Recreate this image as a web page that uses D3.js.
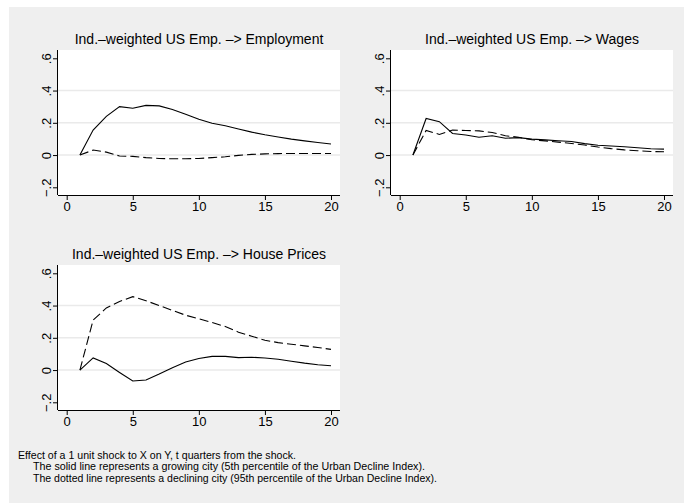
<!DOCTYPE html>
<html>
<head>
<meta charset="utf-8">
<script src="https://cdn.jsdelivr.net/npm/d3@7"></script>
<style>
  html, body { margin: 0; padding: 0; background: #ffffff; }
  svg { display: block; }
  text { font-family: "Liberation Sans", Arial, Helvetica, sans-serif; fill: #000; }
</style>
</head>
<body>
<svg id="chart" width="684" height="503"></svg>
<script>
// Quarters after the shock
const quarters = d3.range(1, 21);

// Impulse responses: solid = growing city, dashed = declining city
const empSolid   = [0, 0.155, 0.24, 0.30, 0.29, 0.308, 0.305, 0.283, 0.253, 0.222, 0.197, 0.182, 0.162, 0.142, 0.126, 0.112, 0.099, 0.088, 0.078, 0.069];
const empDashed  = [0, 0.031, 0.018, -0.006, -0.008, -0.016, -0.021, -0.023, -0.023, -0.021, -0.016, -0.011, -0.002, 0.004, 0.007, 0.009, 0.010, 0.010, 0.010, 0.010];
const wageSolid  = [0, 0.227, 0.207, 0.134, 0.124, 0.110, 0.120, 0.104, 0.108, 0.099, 0.094, 0.089, 0.084, 0.071, 0.061, 0.056, 0.051, 0.045, 0.039, 0.037];
const wageDashed = [0, 0.153, 0.128, 0.155, 0.152, 0.150, 0.140, 0.120, 0.110, 0.095, 0.088, 0.080, 0.072, 0.062, 0.050, 0.040, 0.032, 0.027, 0.022, 0.020];
const houseSolid  = [0, 0.075, 0.040, -0.015, -0.068, -0.062, -0.025, 0.015, 0.050, 0.072, 0.085, 0.085, 0.077, 0.079, 0.075, 0.067, 0.055, 0.043, 0.033, 0.027];
const houseDashed = [0, 0.310, 0.385, 0.425, 0.455, 0.430, 0.400, 0.370, 0.340, 0.318, 0.295, 0.270, 0.235, 0.210, 0.185, 0.170, 0.160, 0.150, 0.140, 0.128];

const panelTitles = [
  "Ind.\u2013weighted US Emp. \u2013> Employment",
  "Ind.\u2013weighted US Emp. \u2013> Wages",
  "Ind.\u2013weighted US Emp. \u2013> House Prices"
];

const xTicks = [0, 5, 10, 15, 20];
const yTicks = [-0.2, 0, 0.2, 0.4, 0.6];
const yTickLabels = ["\u2212.2", "0", ".2", ".4", ".6"];
const gridTicks = [0, 0.2, 0.4];

const noteLines = [
  "Effect of a 1 unit shock to X on Y, t quarters from the shock.",
  "The solid line represents a growing city (5th percentile of the Urban Decline Index).",
  "The dotted line represents a declining city (95th percentile of the Urban Decline Index)."
];

const svg = d3.select("#chart");

// outer graph region
svg.append("rect")
  .attr("x", 9).attr("y", 7)
  .attr("width", 684 - 9).attr("height", 503 - 7)
  .attr("fill", "#efefef");

const W = 282, H = 145;
const panels = [
  { left: 58,  top: 50,  title: panelTitles[0], solid: empSolid,   dashed: empDashed },
  { left: 391, top: 50,  title: panelTitles[1], solid: wageSolid,  dashed: wageDashed },
  { left: 58,  top: 265, title: panelTitles[2], solid: houseSolid, dashed: houseDashed }
];

panels.forEach(p => {
  const g = svg.append("g");
  const x = d3.scaleLinear().domain([0, 20]).range([p.left + 8.7, p.left + 273]);
  const y = d3.scaleLinear().domain([-0.2, 0.6]).range([p.top + 137.3, p.top + 8.3]);

  // plot region
  g.append("rect")
    .attr("x", p.left).attr("y", p.top)
    .attr("width", W).attr("height", H)
    .attr("fill", "#ffffff");

  // grid lines
  g.selectAll(".grid").data(gridTicks).join("line")
    .attr("x1", p.left).attr("x2", p.left + W)
    .attr("y1", d => y(d)).attr("y2", d => y(d))
    .attr("stroke", "#eaeaea").attr("stroke-width", 1.5);

  // x axis
  const xAxis = d3.axisBottom(x).tickValues(xTicks).tickSize(5).tickPadding(2).tickFormat(d3.format("d"));
  const xg = g.append("g").attr("transform", `translate(0,${p.top + H})`).call(xAxis);
  xg.select(".domain").attr("d", `M${p.left},0.5H${p.left + W}`).attr("stroke", "#000");
  xg.selectAll(".tick line").attr("stroke", "#000");
  xg.selectAll(".tick text").attr("font-size", 13).attr("font-family", "Liberation Sans, Arial, sans-serif").attr("fill", "#000");

  // y axis
  const yAxis = d3.axisLeft(y).tickValues(yTicks).tickSize(5).tickPadding(2)
    .tickFormat((d, i) => yTickLabels[i]);
  const yg = g.append("g").attr("transform", `translate(${p.left},0)`).call(yAxis);
  yg.select(".domain").attr("d", `M-0.5,${p.top}V${p.top + H}`).attr("stroke", "#000");
  yg.selectAll(".tick line").attr("stroke", "#000");
  yg.selectAll(".tick text")
    .attr("font-size", 13).attr("font-family", "Liberation Sans, Arial, sans-serif").attr("fill", "#000")
    .attr("x", null).attr("dy", null)
    .attr("text-anchor", "middle")
    .attr("transform", "translate(-7.5,0) rotate(-90)");

  // title
  g.append("text")
    .attr("x", p.left + W / 2).attr("y", p.top - 6)
    .attr("text-anchor", "middle")
    .attr("font-size", 14)
    .text(p.title);

  const line = d3.line().x((d, i) => x(quarters[i])).y(d => y(d));

  g.append("path").datum(p.dashed)
    .attr("d", line).attr("fill", "none")
    .attr("stroke", "#000").attr("stroke-width", 1.1)
    .attr("stroke-dasharray", "9,4");

  g.append("path").datum(p.solid)
    .attr("d", line).attr("fill", "none")
    .attr("stroke", "#000").attr("stroke-width", 1.1);
});

// note below the graph (narrow face)
const noteWidths = [278, 392, 404];
svg.append("g").selectAll("text").data(noteLines).join("text")
  .attr("x", (d, i) => i === 0 ? 18 : 33)
  .attr("y", (d, i) => 458.5 + i * 11.5)
  .attr("font-size", 11)
  .attr("textLength", (d, i) => noteWidths[i])
  .attr("lengthAdjust", "spacingAndGlyphs")
  .text(d => d);
</script>
</body>
</html>
